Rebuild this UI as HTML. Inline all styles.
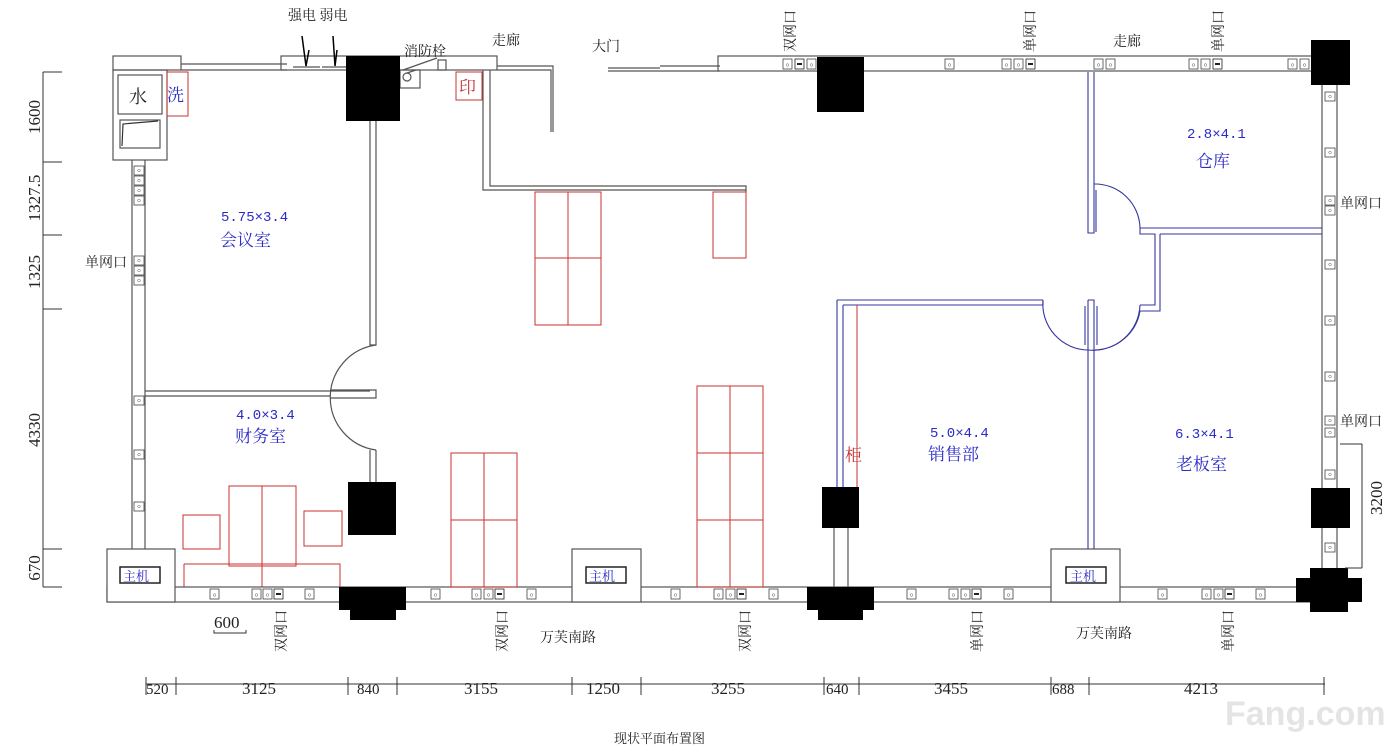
<!DOCTYPE html>
<html><head><meta charset="utf-8"><style>
body{margin:0;background:#fff}
svg{display:block}
text{font-family:"Liberation Serif","Noto Serif CJK SC",serif}
.c{font-family:"Liberation Sans","Noto Sans CJK SC",sans-serif}
.m{font-family:"Liberation Mono","Noto Sans CJK SC",monospace}
</style></head><body>
<svg width="1400" height="747" viewBox="0 0 1400 747" xmlns="http://www.w3.org/2000/svg">
<defs>
<g id="o"><rect x="0" y="0" width="9" height="10" fill="#fff" stroke="#444" stroke-width="0.8"/><circle cx="4.5" cy="6" r="1.3" fill="none" stroke="#666" stroke-width="0.5"/></g>
<g id="d"><rect x="0" y="0" width="9" height="10" fill="#fff" stroke="#222" stroke-width="0.8"/><rect x="2" y="4" width="5" height="2" fill="#222"/></g>
<g id="ov"><rect x="0" y="0" width="10" height="9" fill="#fff" stroke="#444" stroke-width="0.8"/><circle cx="5" cy="4.5" r="1.3" fill="none" stroke="#666" stroke-width="0.5"/></g>
</defs>
<g fill="none" stroke="#555" stroke-width="1.2">
<rect x="113" y="56" width="68" height="14"/>
<rect x="113" y="70" width="54" height="90"/>
<rect x="118" y="75" width="44" height="39"/>
<rect x="120" y="120" width="40" height="28"/>
<path d="M122 146 L123 124 L158 121" stroke="#333"/>
<path d="M181 64 H287 M181 70 H287"/>
<rect x="281" y="56" width="216" height="14"/>
<path d="M293 67 H320 M322 67 H346"/>
<rect x="400" y="70" width="20" height="18"/>
<circle cx="407" cy="77" r="4"/>
<path d="M403 70 L437 58 M407 73 L416 70"/>
<rect x="438" y="60" width="8" height="10"/>
<path d="M483 70 V190 H746 M490 70 V186 H746 V192 M497 66 H553 V132 M497 70 H551 V132"/>
<path d="M608 68 H660 M608 71 H720 M660 66 H720"/>
<rect x="718" y="56" width="602" height="15"/>
<path d="M132 160 V549 M145 160 V549"/>
<path d="M1322 85 V568 M1337 85 V568"/>
<path d="M370 121 V345 H376 V121 M370 450 V482 M376 450 V482"/>
<path d="M376 345 A53 53 0 0 0 376 450"/>
<path d="M145 391 H370 M145 396 H330 M330 390 H376 V398 H330"/>
<rect x="107" y="587" width="1218" height="15"/>
<rect x="107" y="549" width="68" height="53" fill="#fff"/>
<rect x="572" y="549" width="69" height="53" fill="#fff"/>
<rect x="1051" y="549" width="69" height="53" fill="#fff"/>
<path d="M834 528 V587 M848 528 V587"/>
</g>
<g fill="#fff" stroke="#222" stroke-width="1.5">
<rect x="120" y="567" width="40" height="16"/>
<rect x="586" y="567" width="40" height="16"/>
<rect x="1066" y="567" width="40" height="16"/>
</g>
<g font-size="13" fill="#2b2bc8" class="c">
<text x="123" y="581">主机</text><text x="589" y="581">主机</text><text x="1070" y="581">主机</text>
</g>
<g fill="#000">
<rect x="346" y="56" width="54" height="65"/>
<rect x="817" y="57" width="47" height="55"/>
<rect x="1311" y="40" width="39" height="45"/>
<rect x="348" y="482" width="48" height="53"/>
<rect x="822" y="487" width="37" height="41"/>
<rect x="1311" y="488" width="39" height="40"/>
<rect x="339" y="587" width="67" height="23"/><rect x="350" y="605" width="46" height="15"/>
<rect x="807" y="587" width="67" height="23"/><rect x="818" y="605" width="45" height="15"/>
<rect x="1296" y="578" width="66" height="24"/><rect x="1310" y="568" width="38" height="44"/>
</g>
<g fill="none" stroke="#3535a0" stroke-width="1.1">
<path d="M1088 72 V233 H1094 V72"/>
<path d="M1094 184 A45 45 0 0 1 1140 228 H1322 M1140 228 V234 H1155 V305 H1140 M1160 234 H1322 M1160 234 V311 H1140"/>
<path d="M1140 305 A47 47 0 0 1 1088 350 M1140 311 A47 47 0 0 1 1094 350"/>
<path d="M1043 300 A46 46 0 0 0 1088 350 M837 300 H1043 M843 305 H1043 M1043 300 V305"/>
<path d="M1088 300 H1094 V549 M1088 300 V549"/>
<path d="M837 300 V487 M843 305 V487"/>
<path d="M1085 306 V345 M1097 306 V345 M1096 190 V232"/>
</g>
<g fill="none" stroke="#c83232" stroke-width="1">
<rect x="167" y="72" width="21" height="44"/>
<rect x="456" y="72" width="26" height="28"/>
<rect x="535" y="192" width="66" height="133"/><path d="M568 192 V325 M535 258 H601"/>
<rect x="713" y="192" width="33" height="66"/>
<rect x="697" y="386" width="66" height="201"/><path d="M730 386 V587 M697 453 H763 M697 520 H763"/>
<rect x="451" y="453" width="66" height="134"/><path d="M484 453 V587 M451 520 H517"/>
<rect x="229" y="486" width="67" height="80"/><path d="M262 486 V587 M184 564 H340 V587 M184 564 V587"/>
<rect x="183" y="515" width="37" height="34"/><rect x="304" y="511" width="38" height="35"/>
<path d="M857 305 V487"/>
</g>
<g>
<use href="#o" x="783" y="59"/><use href="#d" x="795" y="59"/><use href="#o" x="807" y="59"/>
<use href="#o" x="945" y="59"/><use href="#o" x="1002" y="59"/><use href="#o" x="1014" y="59"/><use href="#d" x="1026" y="59"/>
<use href="#o" x="1094" y="59"/><use href="#o" x="1106" y="59"/>
<use href="#o" x="1189" y="59"/><use href="#o" x="1201" y="59"/><use href="#d" x="1213" y="59"/>
<use href="#o" x="1288" y="59"/><use href="#o" x="1300" y="59"/>
<use href="#ov" x="1325" y="92"/><use href="#ov" x="1325" y="148"/><use href="#ov" x="1325" y="196"/><use href="#ov" x="1325" y="206"/>
<use href="#ov" x="1325" y="260"/><use href="#ov" x="1325" y="316"/><use href="#ov" x="1325" y="372"/>
<use href="#ov" x="1325" y="416"/><use href="#ov" x="1325" y="428"/><use href="#ov" x="1325" y="470"/><use href="#ov" x="1325" y="543"/>
<use href="#ov" x="134" y="166"/><use href="#ov" x="134" y="176"/><use href="#ov" x="134" y="186"/><use href="#ov" x="134" y="196"/>
<use href="#ov" x="134" y="256"/><use href="#ov" x="134" y="266"/><use href="#ov" x="134" y="276"/>
<use href="#ov" x="134" y="396"/><use href="#ov" x="134" y="450"/><use href="#ov" x="134" y="502"/>
<use href="#o" x="210" y="589"/><use href="#o" x="252" y="589"/><use href="#o" x="263" y="589"/><use href="#d" x="274" y="589"/><use href="#o" x="305" y="589"/>
<use href="#o" x="431" y="589"/><use href="#o" x="472" y="589"/><use href="#o" x="484" y="589"/><use href="#d" x="495" y="589"/><use href="#o" x="527" y="589"/>
<use href="#o" x="671" y="589"/><use href="#o" x="714" y="589"/><use href="#o" x="726" y="589"/><use href="#d" x="737" y="589"/><use href="#o" x="769" y="589"/>
<use href="#o" x="907" y="589"/><use href="#o" x="949" y="589"/><use href="#o" x="961" y="589"/><use href="#d" x="972" y="589"/><use href="#o" x="1004" y="589"/>
<use href="#o" x="1158" y="589"/><use href="#o" x="1202" y="589"/><use href="#o" x="1214" y="589"/><use href="#d" x="1225" y="589"/><use href="#o" x="1256" y="589"/>
</g>
<path d="M302 36 L306 66 L309 50 M333 36 L335 66 L337 50" fill="none" stroke="#000" stroke-width="1.5"/>
<g stroke="#333" stroke-width="1" fill="none">
<path d="M43 72 V587 M43 72 H62 M43 162 H62 M43 235 H62 M43 309 H62 M43 549 H62 M43 587 H62"/>
<path d="M146 684 H1325 M146 677 V695 M176 677 V695 M348 677 V695 M397 677 V695 M572 677 V695 M641 677 V695 M824 677 V695 M859 677 V695 M1051 677 V695 M1089 677 V695 M1324 677 V695"/>
<path d="M1362 444 V568 M1362 444 H1340 M1362 568 H1345"/>
<path d="M214 630 V633 H246 V630"/>
</g>
<g font-size="17" fill="#222" class="m">
<text x="146" y="694" font-size="15">520</text><text x="242" y="694">3125</text><text x="357" y="694" font-size="15">840</text><text x="464" y="694">3155</text>
<text x="586" y="694">1250</text><text x="711" y="694">3255</text><text x="826" y="694" font-size="15">640</text><text x="934" y="694">3455</text>
<text x="1052" y="694" font-size="15">688</text><text x="1184" y="694">4213</text>
<text x="214" y="628">600</text>
<text transform="translate(40 117) rotate(-90)" text-anchor="middle">1600</text>
<text transform="translate(40 198) rotate(-90)" text-anchor="middle">1327.5</text>
<text transform="translate(40 272) rotate(-90)" text-anchor="middle">1325</text>
<text transform="translate(40 430) rotate(-90)" text-anchor="middle">4330</text>
<text transform="translate(40 568) rotate(-90)" text-anchor="middle">670</text>
<text transform="translate(1382 498) rotate(-90)" text-anchor="middle">3200</text>
</g>
<g font-size="14" fill="#222" class="c">
<text x="288" y="20">强电 弱电</text>
<text x="404" y="56">消防栓</text>
<text x="492" y="45">走廊</text>
<text x="592" y="51">大门</text>
<text x="1113" y="46">走廊</text>
<text x="85" y="267">单网口</text>
<text x="1340" y="208">单网口</text>
<text x="1340" y="426">单网口</text>
<text x="540" y="642">万芙南路</text>
<text x="1076" y="638">万芙南路</text>
<text x="614" y="743" font-size="13">现状平面布置图</text>
<text transform="translate(795 10) rotate(-90)" text-anchor="end">双网口</text>
<text transform="translate(1035 10) rotate(-90)" text-anchor="end">单网口</text>
<text transform="translate(1223 10) rotate(-90)" text-anchor="end">单网口</text>
<text transform="translate(286 610) rotate(-90)" text-anchor="end">双网口</text>
<text transform="translate(507 610) rotate(-90)" text-anchor="end">双网口</text>
<text transform="translate(750 610) rotate(-90)" text-anchor="end">双网口</text>
<text transform="translate(982 610) rotate(-90)" text-anchor="end">单网口</text>
<text transform="translate(1233 610) rotate(-90)" text-anchor="end">单网口</text>
<text x="129" y="103" font-size="18">水</text>
</g>
<g fill="#2b2bc8" class="c">
<text x="167" y="101" font-size="17">洗</text>
<text x="221" y="221" font-size="14" class="m">5.75×3.4</text><text x="220" y="246" font-size="17">会议室</text>
<text x="236" y="419" font-size="14" class="m">4.0×3.4</text><text x="235" y="442" font-size="17">财务室</text>
<text x="930" y="437" font-size="14" class="m">5.0×4.4</text><text x="928" y="460" font-size="17">销售部</text>
<text x="1175" y="438" font-size="14" class="m">6.3×4.1</text><text x="1176" y="470" font-size="17">老板室</text>
<text x="1187" y="138" font-size="14" class="m">2.8×4.1</text><text x="1196" y="167" font-size="17">仓库</text>
</g>
<g fill="#c83232" class="c" font-size="17">
<text x="459" y="93">印</text><text x="845" y="461">柜</text>
</g>
<text x="1225" y="725" font-size="34" fill="#e4e4e4" font-weight="bold" class="c">Fang.com</text>
</svg>
</body></html>
